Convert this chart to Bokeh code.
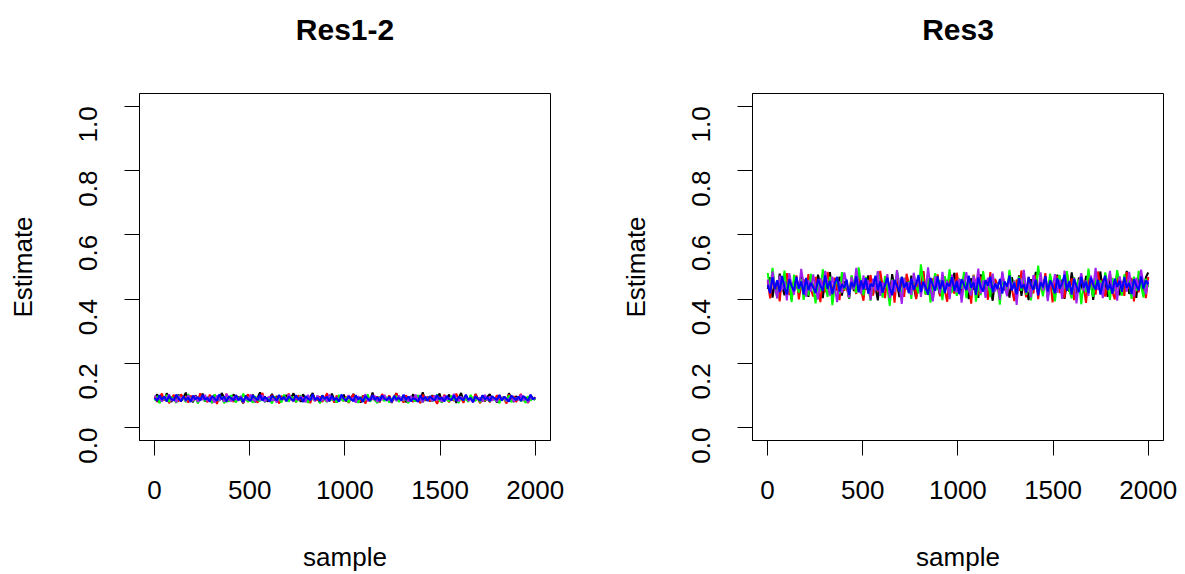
import math
import numpy as np
from bokeh.plotting import figure
from bokeh.layouts import row
from bokeh.models import Range1d, FixedTicker, PrintfTickFormatter, LinearAxis
from bokeh.embed import file_html
from bokeh.resources import INLINE

# ---------------- data ----------------
titles = ["Res1-2", "Res3"]
chain_colors = ["#000000", "#FF0000", "#00FF00", "#A020F0", "#0000FF"]
x_ticks = [0, 500, 1000, 1500, 2000]
y_ticks = [0.0, 0.2, 0.4, 0.6, 0.8, 1.0]
n_samples = 2000

res12_black = [0.089,0.104,0.078,0.096,0.085,0.107,0.092,0.080,0.099,0.087,0.103,0.082,0.094,0.109,0.084,0.097,0.079,0.101,0.090,0.086,
               0.106,0.081,0.095,0.088,0.077,0.102,0.091,0.084,0.108,0.093,0.080,0.098,0.086,0.104,0.083,0.096,0.089,0.076,0.100,0.092,
               0.085,0.103,0.079,0.094,0.110,0.087,0.097,0.081,0.091,0.105,0.084,0.099,0.078,0.095,0.088,0.102,0.082,0.093,0.107,0.086,
               0.098,0.080,0.104,0.090,0.083,0.096,0.108,0.085,0.092,0.077,0.101,0.088,0.094,0.082,0.106,0.089,0.079,0.097,0.087,0.103,
               0.081,0.099,0.091,0.105,0.084,0.093,0.078,0.100,0.088,0.096,0.082,0.109,0.086,0.095,0.080,0.102,0.090,0.085,0.098,0.077,
               0.094,0.107,0.083,0.091,0.100,0.079,0.097,0.087,0.104,0.082,0.093,0.089,0.110,0.084,0.096,0.081,0.101,0.088,0.092,0.106,
               0.080,0.095,0.089,0.103,0.085,0.098,0.077,0.092,0.108,0.086,0.100,0.083,0.094,0.079,0.105,0.090,0.087,0.099,0.082,0.096,
               0.104,0.088,0.093,0.078,0.101,0.086,0.097,0.083,0.107,0.091,0.080,0.098,0.089,0.103,0.085,0.095,0.081,0.100,0.092,0.087]
res12_red = [0.097,0.080,0.093,0.106,0.084,0.099,0.076,0.091,0.102,0.087,0.082,0.104,0.089,0.095,0.078,0.100,0.086,0.092,0.081,0.107,
             0.088,0.096,0.079,0.103,0.085,0.094,0.074,0.098,0.090,0.083,0.105,0.087,0.093,0.080,0.101,0.086,0.097,0.077,0.092,0.104,
             0.083,0.100,0.089,0.078,0.095,0.108,0.085,0.091,0.081,0.102,0.087,0.096,0.075,0.099,0.090,0.084,0.106,0.088,0.093,0.079,
             0.101,0.086,0.094,0.082,0.098,0.076,0.103,0.089,0.085,0.097,0.080,0.092,0.107,0.084,0.095,0.078,0.100,0.087,0.091,0.083,
             0.096,0.077,0.090,0.104,0.086,0.093,0.081,0.099,0.075,0.094,0.088,0.102,0.083,0.097,0.079,0.105,0.090,0.085,0.100,0.082,
             0.092,0.107,0.084,0.089,0.078,0.101,0.087,0.095,0.080,0.098,0.091,0.076,0.103,0.086,0.094,0.082,0.099,0.088,0.074,0.096,
             0.085,0.102,0.090,0.079,0.097,0.083,0.106,0.088,0.093,0.077,0.100,0.086,0.095,0.081,0.104,0.089,0.076,0.098,0.084,0.092,
             0.079,0.096,0.087,0.101,0.082,0.094,0.089,0.075,0.103,0.086,0.098,0.080,0.092,0.105,0.084,0.090,0.077,0.099,0.088,0.095]
res12_green = [0.084,0.098,0.076,0.093,0.087,0.102,0.080,0.095,0.089,0.077,0.100,0.086,0.092,0.079,0.104,0.088,0.083,0.097,0.075,0.091,
               0.099,0.082,0.094,0.087,0.078,0.103,0.090,0.085,0.096,0.076,0.093,0.081,0.101,0.088,0.079,0.095,0.084,0.106,0.089,0.080,
               0.092,0.077,0.098,0.086,0.083,0.100,0.079,0.094,0.088,0.075,0.097,0.085,0.091,0.078,0.103,0.087,0.082,0.096,0.090,0.080,
               0.086,0.101,0.081,0.092,0.077,0.095,0.089,0.084,0.099,0.076,0.093,0.087,0.080,0.098,0.085,0.091,0.078,0.102,0.088,0.083,
               0.094,0.079,0.090,0.085,0.100,0.077,0.096,0.082,0.088,0.104,0.081,0.093,0.086,0.076,0.097,0.089,0.083,0.095,0.078,0.091,
               0.087,0.099,0.080,0.094,0.084,0.090,0.076,0.098,0.086,0.082,0.101,0.088,0.079,0.093,0.085,0.097,0.081,0.091,0.103,0.084,
               0.078,0.095,0.088,0.082,0.100,0.086,0.091,0.077,0.096,0.085,0.089,0.080,0.102,0.087,0.083,0.094,0.079,0.099,0.086,0.092,
               0.081,0.097,0.085,0.090,0.076,0.094,0.088,0.083,0.100,0.079,0.092,0.087,0.095,0.082,0.089,0.077,0.098,0.084,0.093,0.086]
res12_purple = [0.100,0.086,0.094,0.081,0.097,0.089,0.104,0.083,0.092,0.079,0.098,0.087,0.095,0.082,0.101,0.088,0.084,0.099,0.080,0.093,
                0.087,0.102,0.083,0.096,0.090,0.078,0.100,0.085,0.093,0.081,0.105,0.088,0.082,0.097,0.091,0.084,0.099,0.079,0.094,0.086,
                0.103,0.088,0.082,0.095,0.086,0.101,0.080,0.092,0.097,0.084,0.090,0.078,0.099,0.087,0.094,0.083,0.104,0.089,0.081,0.096,
                0.085,0.098,0.091,0.079,0.102,0.087,0.093,0.082,0.100,0.088,0.084,0.096,0.080,0.103,0.089,0.086,0.095,0.081,0.099,0.090,
                0.083,0.101,0.086,0.094,0.078,0.097,0.090,0.085,0.104,0.082,0.092,0.088,0.099,0.080,0.095,0.087,0.102,0.084,0.091,0.079,
                0.096,0.083,0.100,0.089,0.086,0.093,0.081,0.098,0.087,0.103,0.084,0.091,0.079,0.097,0.088,0.094,0.082,0.100,0.086,0.092,
                0.080,0.099,0.087,0.093,0.084,0.105,0.089,0.082,0.096,0.086,0.101,0.083,0.090,0.078,0.098,0.088,0.094,0.081,0.102,0.085,
                0.097,0.084,0.092,0.080,0.100,0.087,0.095,0.083,0.089,0.098,0.081,0.093,0.086,0.103,0.085,0.091,0.079,0.096,0.088,0.094]
res12_blue = [0.092,0.083,0.101,0.087,0.097,0.081,0.099,0.089,0.085,0.103,0.090,0.082,0.098,0.086,0.094,0.080,0.100,0.088,0.095,0.084,
              0.102,0.087,0.093,0.081,0.099,0.090,0.084,0.104,0.088,0.096,0.082,0.097,0.091,0.085,0.101,0.086,0.094,0.080,0.098,0.089,
              0.083,0.100,0.092,0.086,0.103,0.084,0.095,0.089,0.081,0.099,0.093,0.085,0.102,0.087,0.096,0.082,0.097,0.090,0.084,0.101,
              0.088,0.094,0.080,0.098,0.091,0.085,0.104,0.087,0.093,0.082,0.100,0.089,0.096,0.083,0.099,0.086,0.092,0.081,0.103,0.090,
              0.085,0.097,0.089,0.082,0.101,0.088,0.094,0.080,0.098,0.091,0.084,0.102,0.087,0.095,0.083,0.100,0.090,0.086,0.096,0.081,
              0.099,0.088,0.093,0.084,0.103,0.086,0.097,0.082,0.092,0.089,0.080,0.101,0.087,0.095,0.083,0.098,0.090,0.085,0.102,0.088,
              0.094,0.081,0.099,0.089,0.086,0.100,0.083,0.096,0.091,0.085,0.103,0.087,0.093,0.080,0.097,0.090,0.084,0.101,0.088,0.095,
              0.082,0.098,0.091,0.087,0.102,0.084,0.096,0.089,0.081,0.100,0.092,0.086,0.097,0.083,0.099,0.090,0.085,0.103,0.088,0.094]

res3_black = [0.432,0.468,0.405,0.451,0.423,0.479,0.441,0.412,0.463,0.436,0.398,0.457,0.445,0.418,0.472,0.429,0.454,0.407,0.466,0.439,
              0.421,0.476,0.447,0.403,0.459,0.433,0.484,0.415,0.449,0.427,0.470,0.411,0.455,0.438,0.401,0.464,0.425,0.481,0.443,0.419,
              0.461,0.430,0.474,0.409,0.452,0.437,0.396,0.467,0.424,0.458,0.442,0.413,0.478,0.434,0.450,0.406,0.469,0.428,0.456,0.420,
              0.473,0.440,0.402,0.462,0.431,0.487,0.417,0.453,0.435,0.399,0.466,0.444,0.410,0.475,0.426,0.460,0.408,0.448,0.482,0.422,
              0.457,0.414,0.470,0.437,0.400,0.465,0.429,0.452,0.404,0.477,0.441,0.418,0.463,0.433,0.395,0.459,0.446,0.412,0.480,0.427,
              0.449,0.405,0.468,0.436,0.421,0.474,0.410,0.456,0.439,0.397,0.462,0.430,0.485,0.416,0.451,0.426,0.471,0.403,0.458,0.443,
              0.414,0.476,0.434,0.460,0.401,0.448,0.423,0.483,0.438,0.409,0.467,0.445,0.419,0.472,0.428,0.455,0.398,0.464,0.436,0.486,
              0.420,0.458,0.407,0.469,0.440,0.425,0.479,0.412,0.453,0.432,0.488,0.416,0.461,0.437,0.404,0.474,0.447,0.422,0.468,0.483]
res3_red = [0.457,0.402,0.471,0.428,0.448,0.393,0.466,0.435,0.481,0.413,0.452,0.425,0.474,0.399,0.444,0.462,0.418,0.478,0.431,0.408,
            0.469,0.439,0.391,0.458,0.421,0.485,0.446,0.410,0.467,0.433,0.397,0.476,0.426,0.454,0.404,0.472,0.440,0.416,0.483,0.429,
            0.395,0.463,0.437,0.475,0.411,0.450,0.424,0.488,0.441,0.403,0.468,0.419,0.456,0.389,0.473,0.432,0.460,0.407,0.479,0.445,
            0.422,0.470,0.400,0.455,0.434,0.487,0.414,0.449,0.396,0.465,0.438,0.477,0.409,0.458,0.427,0.392,0.471,0.443,0.417,0.482,
            0.436,0.401,0.467,0.424,0.459,0.386,0.476,0.442,0.412,0.470,0.430,0.453,0.398,0.484,0.420,0.463,0.439,0.405,0.474,0.447,
            0.415,0.478,0.433,0.394,0.461,0.426,0.489,0.444,0.406,0.469,0.437,0.418,0.475,0.400,0.454,0.428,0.481,0.411,0.462,0.390,
            0.448,0.472,0.419,0.457,0.404,0.483,0.431,0.465,0.397,0.451,0.425,0.477,0.441,0.388,0.468,0.435,0.459,0.414,0.486,0.427,
            0.463,0.408,0.449,0.479,0.423,0.399,0.470,0.438,0.456,0.410,0.484,0.432,0.466,0.393,0.452,0.421,0.474,0.446,0.403,0.469]
res3_green = [0.482,0.426,0.497,0.441,0.404,0.468,0.433,0.489,0.415,0.457,0.391,0.476,0.447,0.420,0.463,0.398,0.452,0.411,0.479,0.436,
              0.387,0.458,0.424,0.493,0.445,0.407,0.470,0.381,0.439,0.466,0.416,0.484,0.430,0.455,0.402,0.474,0.443,0.419,0.499,0.451,
              0.412,0.469,0.437,0.395,0.460,0.427,0.486,0.449,0.405,0.472,0.434,0.379,0.461,0.423,0.490,0.446,0.408,0.467,0.431,0.455,
              0.401,0.477,0.440,0.418,0.508,0.452,0.414,0.465,0.389,0.444,0.481,0.428,0.459,0.397,0.471,0.435,0.493,0.421,0.448,0.410,
              0.464,0.432,0.485,0.403,0.453,0.425,0.474,0.392,0.446,0.412,0.487,0.438,0.460,0.406,0.478,0.429,0.450,0.383,0.466,0.442,
              0.419,0.491,0.437,0.458,0.400,0.470,0.426,0.482,0.414,0.449,0.396,0.467,0.433,0.504,0.445,0.409,0.462,0.424,0.479,0.440,
              0.393,0.456,0.475,0.417,0.448,0.487,0.428,0.402,0.468,0.436,0.461,0.384,0.451,0.422,0.495,0.439,0.407,0.473,0.430,0.458,
              0.415,0.483,0.444,0.398,0.466,0.427,0.490,0.452,0.411,0.477,0.434,0.459,0.401,0.470,0.425,0.488,0.441,0.405,0.463,0.437]
res3_purple = [0.461,0.419,0.486,0.437,0.402,0.473,0.428,0.455,0.396,0.481,0.442,0.414,0.467,0.431,0.494,0.447,0.408,0.459,0.423,0.477,
               0.435,0.399,0.465,0.427,0.488,0.445,0.411,0.470,0.438,0.391,0.456,0.420,0.483,0.448,0.405,0.468,0.430,0.497,0.441,0.416,
               0.474,0.433,0.458,0.397,0.464,0.425,0.487,0.410,0.451,0.439,0.478,0.403,0.460,0.422,0.490,0.444,0.385,0.466,0.429,0.452,
               0.413,0.482,0.440,0.469,0.407,0.455,0.426,0.499,0.436,0.393,0.471,0.446,0.418,0.485,0.432,0.457,0.400,0.476,0.443,0.421,
               0.463,0.389,0.450,0.484,0.428,0.412,0.472,0.439,0.495,0.417,0.458,0.404,0.467,0.434,0.479,0.424,0.449,0.398,0.486,0.441,
               0.409,0.470,0.430,0.457,0.382,0.462,0.436,0.491,0.421,0.447,0.406,0.475,0.444,0.415,0.483,0.427,0.468,0.394,0.453,0.437,
               0.478,0.420,0.460,0.401,0.489,0.433,0.452,0.414,0.466,0.387,0.445,0.481,0.425,0.458,0.410,0.474,0.438,0.497,0.429,0.451,
               0.403,0.465,0.442,0.488,0.418,0.456,0.395,0.471,0.434,0.462,0.423,0.485,0.440,0.408,0.467,0.431,0.492,0.446,0.416,0.459]
res3_blue = [0.445,0.418,0.468,0.431,0.459,0.422,0.472,0.436,0.415,0.462,0.440,0.425,0.470,0.433,0.455,0.414,0.466,0.428,0.451,0.437,
             0.419,0.463,0.442,0.426,0.474,0.432,0.457,0.416,0.449,0.469,0.424,0.446,0.435,0.461,0.413,0.453,0.438,0.471,0.421,0.458,
             0.430,0.465,0.417,0.448,0.439,0.473,0.427,0.456,0.420,0.444,0.467,0.434,0.412,0.460,0.441,0.423,0.469,0.436,0.452,0.418,
             0.464,0.429,0.447,0.475,0.422,0.454,0.437,0.414,0.466,0.443,0.426,0.471,0.431,0.458,0.419,0.450,0.440,0.468,0.425,0.457,
             0.416,0.462,0.445,0.428,0.473,0.435,0.452,0.413,0.467,0.438,0.424,0.459,0.442,0.470,0.421,0.448,0.432,0.463,0.417,0.455,
             0.439,0.474,0.427,0.451,0.415,0.465,0.434,0.446,0.420,0.469,0.443,0.429,0.461,0.412,0.453,0.437,0.472,0.424,0.458,0.441,
             0.418,0.466,0.433,0.449,0.476,0.426,0.456,0.415,0.463,0.440,0.422,0.470,0.436,0.454,0.419,0.467,0.445,0.430,0.460,0.414,
             0.451,0.473,0.428,0.447,0.417,0.464,0.438,0.457,0.423,0.469,0.435,0.450,0.416,0.462,0.442,0.427,0.471,0.433,0.458,0.446]

panels = [
    [res12_black, res12_red, res12_green, res12_purple, res12_blue],
    [res3_black, res3_red, res3_green, res3_purple, res3_blue],
]

FONT = "Liberation Sans"
FRAME_W, FRAME_H = 411, 347


def make_panel(title, chains, border_left, border_right):
    span = n_samples - 1
    p = figure(width=border_left + FRAME_W + border_right, height=574,
               frame_width=FRAME_W, frame_height=FRAME_H,
               min_border_left=border_left, min_border_right=border_right,
               min_border_top=93, min_border_bottom=134,
               x_range=Range1d(1 - 0.04 * span, n_samples + 0.04 * span),
               y_range=Range1d(-0.04, 1.04),
               output_backend="svg", toolbar_location=None)
    for vals, col in zip(chains, chain_colors):
        xs = np.linspace(1, n_samples, len(vals))
        p.line(xs, vals, line_color=col, line_width=2)

    bottom = p.below[0]
    left_ax = p.left[0]

    # main title: label of a bare axis above the plot box (no ticks, no labels)
    top = LinearAxis(axis_label=title, ticker=FixedTicker(ticks=[]),
                     axis_line_color=None, major_tick_line_color=None,
                     minor_tick_line_color=None, major_tick_out=0, major_tick_in=0,
                     minor_tick_out=0, minor_tick_in=0, major_label_standoff=0,
                     axis_label_standoff=48,
                     axis_label_text_font=FONT, axis_label_text_font_size="30px",
                     axis_label_text_font_style="bold", axis_label_text_color="#000000")
    p.add_layout(top, "above")

    p.grid.visible = False
    p.outline_line_color = "#000000"
    p.outline_line_width = 1
    p.background_fill_color = "white"
    p.border_fill_color = "white"

    bottom.ticker = FixedTicker(ticks=x_ticks)
    left_ax.ticker = FixedTicker(ticks=y_ticks)
    left_ax.formatter = PrintfTickFormatter(format="%.1f")
    bottom.axis_label = "sample"
    left_ax.axis_label = "Estimate"
    for ax in (bottom, left_ax):
        ax.axis_line_color = "#000000"
        ax.major_tick_line_color = "#000000"
        ax.minor_tick_line_color = None
        ax.major_tick_out = 15
        ax.major_tick_in = 0
        ax.major_label_text_font = FONT
        ax.major_label_text_font_size = "26px"
        ax.major_label_text_color = "#000000"
        ax.axis_label_text_font = FONT
        ax.axis_label_text_font_size = "26px"
        ax.axis_label_text_font_style = "normal"
        ax.axis_label_text_color = "#000000"
    bottom.major_label_standoff = 25
    bottom.axis_label_standoff = 40
    left_ax.major_label_standoff = 36
    left_ax.axis_label_standoff = 30
    left_ax.major_label_orientation = math.pi / 2
    return p


left = make_panel(titles[0], panels[0], 139, 42)
right = make_panel(titles[1], panels[1], 160, 22)
layout = row(left, right, spacing=0)

open("out.html", "w").write(file_html(layout, INLINE))
